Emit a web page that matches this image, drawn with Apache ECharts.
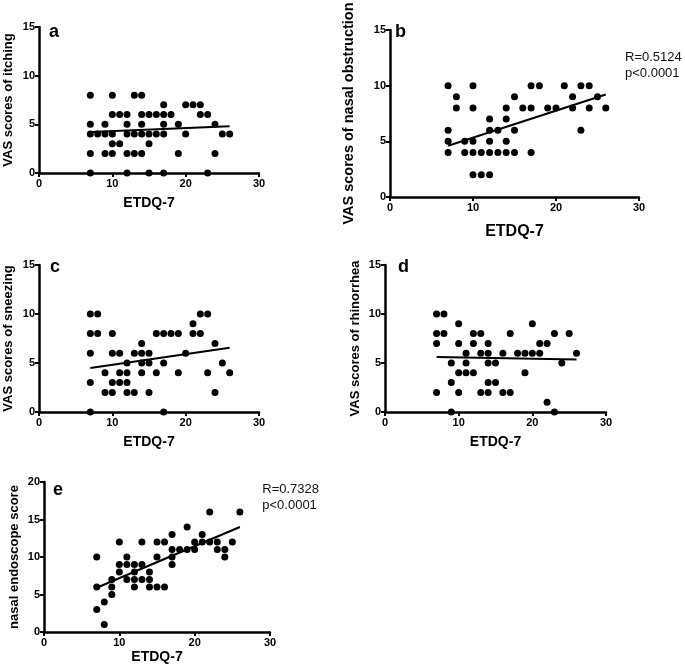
<!DOCTYPE html>
<html>
<head>
<meta charset="utf-8">
<script src="https://cdn.jsdelivr.net/npm/echarts@6/dist/echarts.min.js"></script>
<style>
  html, body { margin: 0; padding: 0; background: #fff; }
  #main { width: 685px; height: 669px; }
</style>
</head>
<body>
<div id="main"></div>
<script>
// ETDQ-7 scores vs symptom scores, one pair of arrays per panel
var etdqA = [7,7,7,7,7, 8, 9,9,9, 10,10,10,10,10, 11,11, 12,12,12,12,12, 13,13,13, 14,14,14,14,14, 15,15,15,15, 16,16, 17,17,17,17,17, 18, 19,19, 20,20, 21, 22,22, 23,23, 24,24, 25, 26];
var itching = [8,5,4,2,0, 4, 5,4,2, 8,6,4,3,2, 6,3, 6,5,4,2,0, 8,4,2, 8,6,5,4,2, 6,4,3,0, 6,4, 7,6,5,4,0, 6, 5,2, 7,4, 7, 7,6, 6,0, 5,2, 4, 4];

var etdqB = [7,7,7,7, 8,8, 9,9, 10,10,10,10,10, 11,11, 12,12,12,12,12, 13,13, 14,14,14,14, 15,15,15, 16, 17,17,17, 18, 19, 20, 21, 22,22, 23,23, 24,24, 25, 26];
var obstruction = [10,6,5,4, 9,8, 5,4, 10,8,5,4,2, 4,2, 7,6,5,4,2, 6,4, 8,7,5,4, 9,6,4, 8, 10,8,4, 10, 8, 8, 10, 9,8, 10,6, 10,8, 9, 8];

var etdqC = [7,7,7,7,7, 8,8, 9,9, 10,10,10,10, 11,11,11, 12,12,12,12, 13,13, 14,14,14,14, 15,15,15, 16,16, 17,17,17, 18, 19,19, 20, 21,21, 22,22, 23,23, 24,24, 25, 26];
var sneezing = [10,8,6,3,0, 10,8, 4,2, 8,6,3,2, 6,4,3, 5,4,3,2, 6,2, 7,6,5,4, 6,5,2, 8,4, 8,5,0, 8, 8,4, 6, 9,8, 10,8, 10,4, 7,2, 5, 4];

var etdqD = [7,7,7,7, 8,8, 9,9,9, 10,10,10,10, 11,11,11, 12,12,12, 13,13,13, 14,14,14,14,14, 15,15, 16,16, 17,17, 18, 19,19, 20,20, 21,21, 22,22, 23,23, 24, 25, 26];
var rhinorrhea = [10,8,7,2, 10,8, 5,3,0, 9,7,4,2, 6,5,4, 8,7,4, 8,6,2, 7,6,5,3,2, 5,3, 6,2, 8,2, 6, 6,4, 9,6, 7,6, 7,1, 8,0, 5, 8, 6];

var etdqE = [7,7,7, 8,8, 9,9,9, 10,10,10, 11,11,11, 12,12,12,12, 13,13,13, 14,14,14, 15,15,15, 16,16, 17,17,17,17, 18, 19,19, 20,20, 21,21, 22,22, 23,23, 24,24, 25, 26];
var endoscope = [10,6,3, 4,1, 7,6,5, 12,9,8, 10,9,7, 9,8,7,6, 12,9,7, 8,7,6, 12,10,6, 12,6, 13,11,10,9, 11, 14,11, 12,11, 13,12, 16,12, 12,11, 11,10, 12, 16];

// regression line end points
var fitX = [7, 26];
var fitA = [4.2, 4.8];
var fitB = [4.6, 9.2];
var fitC = [4.5, 6.55];
var fitD = [5.6, 5.35];
var fitE = [5.9, 14.0];

var panelLetters = ['a', 'b', 'c', 'd', 'e'];
var yNames = ['VAS scores of itching', 'VAS scores of nasal obstruction', 'VAS scores of sneezing', 'VAS scores of rhinorrhea', 'nasal endoscope score'];
var xName = 'ETDQ-7';
var yMaxes = [15, 15, 15, 15, 20];
var statsB = ['R=0.5124', 'p<0.0001'];
var statsE = ['R=0.7328', 'p<0.0001'];

var FONT = '"Liberation Sans", Arial, sans-serif';

function pairs(xs, ys) {
  var out = [];
  for (var i = 0; i < xs.length; i++) out.push([xs[i], ys[i]]);
  return out;
}

// grid boxes in px: left, right, top, bottom
var grids = [
  { left: 39, right: 426, top: 27, bottom: 496 },
  { left: 390, right: 46, top: 30, bottom: 472 },
  { left: 39, right: 426, top: 265, bottom: 257 },
  { left: 385, right: 79, top: 265, bottom: 257 },
  { left: 44, right: 415, top: 482, bottom: 37 }
];
var xNameGaps = [23, 27, 23, 23, 18];
var yNameGaps = [24, 34, 24, 23.5, 23.5];
var nameSizes = [13, 14.5, 13, 13, 13];
var xNameSizes = [14, 16, 14, 14, 14];

var xAxes = [], yAxes = [], series = [];
var scatterSets = [pairs(etdqA, itching), pairs(etdqB, obstruction), pairs(etdqC, sneezing), pairs(etdqD, rhinorrhea), pairs(etdqE, endoscope)];
var fits = [fitA, fitB, fitC, fitD, fitE];

for (var i = 0; i < 5; i++) {
  xAxes.push({
    type: 'value', gridIndex: i, min: 0, max: 30, interval: 10,
    name: xName, nameLocation: 'middle', nameGap: xNameGaps[i],
    nameTextStyle: { fontFamily: FONT, fontWeight: 'bold', fontSize: xNameSizes[i], color: '#000' },
    axisLine: { show: true, onZero: false, lineStyle: { color: '#000', width: 2.5 } },
    axisTick: { show: true, length: 4, lineStyle: { color: '#000', width: 2 } },
    axisLabel: { margin: 5, fontFamily: FONT, fontWeight: 'bold', fontSize: 11, color: '#000', showMinLabel: true, showMaxLabel: true },
    splitLine: { show: false }
  });
  yAxes.push({
    type: 'value', gridIndex: i, min: 0, max: yMaxes[i], interval: 5,
    name: yNames[i], nameLocation: 'middle', nameRotate: 90, nameGap: yNameGaps[i],
    nameTextStyle: { fontFamily: FONT, fontWeight: 'bold', fontSize: nameSizes[i], color: '#000' },
    axisLine: { show: true, onZero: false, lineStyle: { color: '#000', width: 2.5 } },
    axisTick: { show: true, length: 4, lineStyle: { color: '#000', width: 2 } },
    axisLabel: { margin: 4, fontFamily: FONT, fontWeight: 'bold', fontSize: 11, color: '#000', showMinLabel: true, showMaxLabel: true },
    splitLine: { show: false }
  });
  series.push({
    type: 'scatter', xAxisIndex: i, yAxisIndex: i,
    data: scatterSets[i], symbol: 'circle', symbolSize: 7,
    itemStyle: { color: '#000', opacity: 1 }, silent: true
  });
  series.push({
    type: 'line', xAxisIndex: i, yAxisIndex: i,
    data: pairs(fitX, fits[i]), showSymbol: false, symbol: 'none',
    lineStyle: { color: '#000', width: 2 }, silent: true, z: 3
  });
}

// panel letters and R / p text
var letterPos = [[49, 37], [395, 37], [50, 272], [398, 272], [53, 495]];
var graphics = [];
for (var k = 0; k < 5; k++) {
  graphics.push({
    type: 'text', left: letterPos[k][0], top: letterPos[k][1] - 14,
    style: { text: panelLetters[k], font: 'bold 18px ' + FONT, fill: '#000' }
  });
}
graphics.push({
  type: 'text', left: 625, top: 49,
  style: { text: statsB.join('\n'), font: '13px ' + FONT, fill: '#111', lineHeight: 16 }
});
graphics.push({
  type: 'text', right: 685 - 319, top: 481,
  style: { text: statsE.join('\n'), font: '13px ' + FONT, fill: '#111', lineHeight: 16, align: 'right' }
});

var chart = echarts.init(document.getElementById('main'), null, { renderer: 'canvas' });
chart.setOption({
  animation: false,
  backgroundColor: '#fff',
  grid: grids,
  xAxis: xAxes,
  yAxis: yAxes,
  series: series,
  graphic: graphics
});
</script>
</body>
</html>
